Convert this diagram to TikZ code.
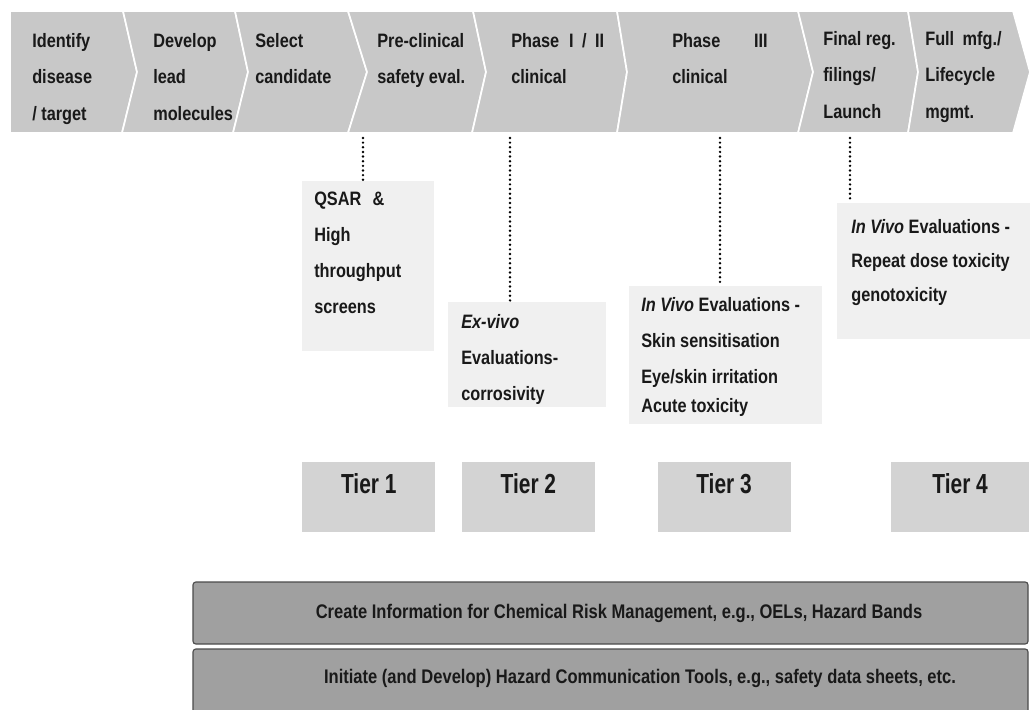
\documentclass[tikz,border=0pt]{standalone}
\usepackage{fontspec}
\setmainfont{Liberation Sans}[FakeStretch=0.84]
\newfontfamily\tierfont{Liberation Sans}[FakeStretch=0.76]
\usepackage{tikz}
\usetikzlibrary{positioning,calc,fit}

\definecolor{bandgray}{RGB}{200,200,200}
\definecolor{notegray}{RGB}{240,240,240}
\definecolor{tiergray}{RGB}{211,211,211}
\definecolor{bargray}{RGB}{160,160,160}
\definecolor{bardraw}{RGB}{75,75,75}
\definecolor{inkgray}{RGB}{25,25,25}

\begin{document}
\begin{tikzpicture}[x=0.025cm, y=-0.025cm]
  % styles
  \tikzstyle{stage}=[fill=bandgray, draw=white, line width=1.2pt, line join=miter];
  \tikzstyle{stagetext}=[anchor=north west, inner sep=0pt, align=left, text=inkgray, font=\fontsize{13.8}{25.9}\selectfont\bfseries];
  \tikzstyle{note}=[fill=notegray, inner sep=0pt];
  \tikzstyle{notetext}=[anchor=north west, inner sep=0pt, align=left, text=inkgray, font=\fontsize{13.8}{25.6}\selectfont\bfseries];
  \tikzstyle{tier}=[fill=tiergray, inner sep=0pt, minimum width=3.325cm, minimum height=1.75cm, anchor=north west, text=inkgray, font=\tierfont\fontsize{19.6}{22}\selectfont\bfseries, text height=0.5cm, text depth=0.675cm];
  \tikzstyle{bar}=[fill=bargray, draw=bardraw, line width=0.8pt, rounded corners=2pt, inner sep=0pt];
  \tikzstyle{bartext}=[text=inkgray, font=\fontsize{14}{16}\selectfont\bfseries];
  \tikzstyle{link}=[line width=1.9pt, line cap=round, dash pattern=on 0pt off 3.3pt];

  \useasboundingbox (0,0) rectangle (1030,709);

  %==================== PIPELINE BAND ====================
  \draw[stage] (10,11) -- (123,11) -- (137,72) -- (122,133) -- (10,133) -- cycle;
  \draw[stage] (123,11) -- (235,11) -- (248,72) -- (233,133) -- (122,133) -- (137,72) -- cycle;
  \draw[stage] (235,11) -- (348,11) -- (367,72) -- (348,133) -- (233,133) -- (248,72) -- cycle;
  \draw[stage] (348,11) -- (473,11) -- (486,72) -- (472,133) -- (348,133) -- (367,72) -- cycle;
  \draw[stage] (473,11) -- (617,11) -- (627,72) -- (617,133) -- (472,133) -- (486,72) -- cycle;
  \draw[stage] (617,11) -- (798,11) -- (813,72) -- (798,133) -- (617,133) -- (627,72) -- cycle;
  \draw[stage] (798,11) -- (908,11) -- (918,72) -- (908,133) -- (798,133) -- (813,72) -- cycle;
  \draw[stage] (908,11) -- (1013,11) -- (1030,72) -- (1013,133) -- (908,133) -- (918,72) -- cycle;

  \node[stagetext] (identify) at (32,33) {Identify\\disease\\/ target};
  \node[stagetext] (develop) at (153,33) {Develop\\lead\\molecules};
  \node[stagetext] (select) at (255,33) {Select\\candidate};
  \node[stagetext] (preclin) at (377,33) {Pre-clinical\\safety eval.};
  \node[stagetext] (phase12) at (511,33) {Phase\hspace{7pt}I\hspace{6pt}/\hspace{6pt}II\\clinical};
  \node[stagetext] (phase3) at (672,33) {Phase\hspace{24pt}III\\clinical};
  \node[stagetext] (launch) at (823,31) {Final reg.\\filings/\\Launch};
  \node[stagetext] (lifecycle) at (925,31) {Full\hspace{6pt}mfg./\\Lifecycle\\mgmt.};

  %==================== EVALUATION NOTES ====================
  \node[note, fit={(302,181)(434,351)}] (qsarbox) {};
  \node[note, fit={(448,302)(606,407)}] (exvivobox) {};
  \node[note, fit={(629,286)(822,424)}] (invivobox) {};
  \node[note, fit={(837,203)(1030,339)}] (repeatbox) {};

  \node[notetext] (qsar) at (314,192) {QSAR\hspace{8pt}\&\\High\\throughput\\screens};
  \node[notetext] (exvivo) at (461,314) {\textit{Ex-vivo}\\Evaluations-\\corrosivity};
  \node[notetext] (invivo) at (641,297) {\textit{In Vivo} Evaluations -\\Skin sensitisation\\Eye/skin irritation\\[-5pt]Acute toxicity};
  \node[notetext] (repeat) at (851,219) {\textit{In Vivo} Evaluations -\\[-1.4pt]Repeat dose toxicity\\[-1.4pt]genotoxicity};

  % dotted drops from the band
  \coordinate (drop1) at (363,138);
  \coordinate (drop2) at (510,138);
  \coordinate (drop3) at (720,138);
  \coordinate (drop4) at (850,138);
  \draw[link] (drop1) -- (drop1 |- qsarbox.north);
  \draw[link] (drop2) -- (drop2 |- exvivobox.north);
  \draw[link] (drop3) -- (drop3 |- invivobox.north);
  \draw[link] (drop4) -- (drop4 |- repeatbox.north);

  %==================== TIERS ====================
  \node[tier] (tier1) at (302,462) {Tier 1};
  \node[tier, right=0.65cm of tier1] (tier2) {Tier 2};
  \node[tier, right=1.55cm of tier2] (tier3) {Tier 3};
  \node[tier, right=2.5cm of tier3, minimum width=3.45cm] (tier4) {Tier 4};

  %==================== BARS ====================
  \node[bar, fit={(193,582)(1028,644)}] (riskbar) {};
  \node[bartext] (risk) at (619,613) {Create Information for Chemical Risk Management, e.g., OELs, Hazard Bands};
  \node[bar, fit={(193,649)(1028,716)}] (hazbar) {};
  \node[bartext] (hazard) at (640,678) {Initiate (and Develop) Hazard Communication Tools, e.g., safety data sheets, etc.};
\end{tikzpicture}
\end{document}
